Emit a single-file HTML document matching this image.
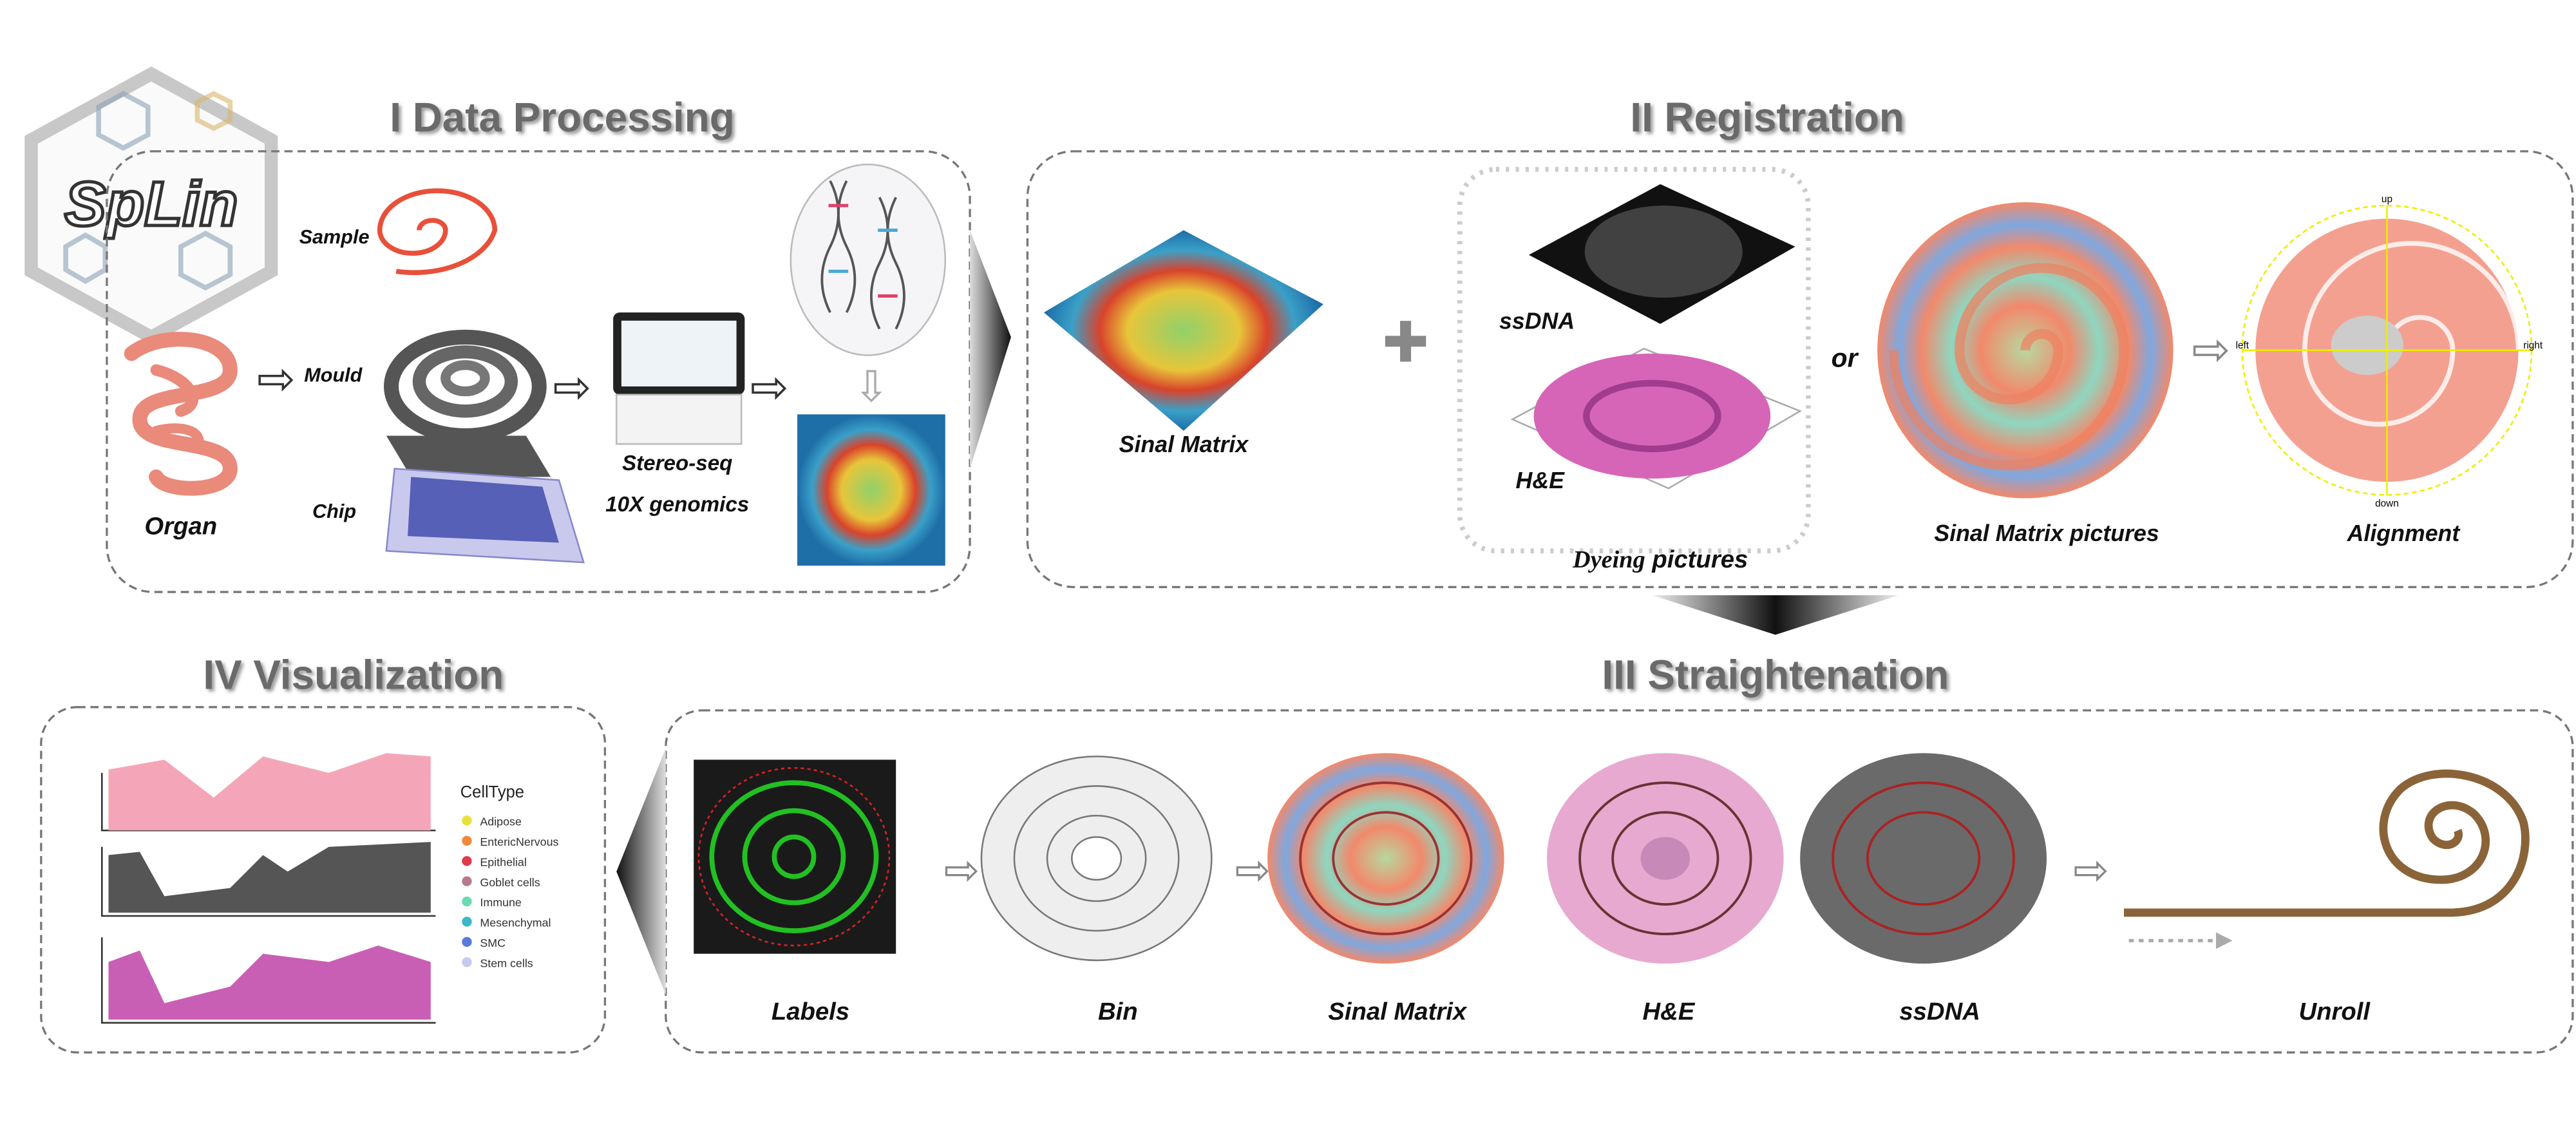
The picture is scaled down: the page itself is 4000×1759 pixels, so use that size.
<!DOCTYPE html>
<html><head><meta charset="utf-8">
<style>
html,body{margin:0;padding:0;background:#fff;}
svg{display:block;font-family:"Liberation Sans",Arial,sans-serif;}
.lbl{font-weight:bold;font-style:italic;fill:#111;}
.ttl{font-weight:bold;fill:#6a6a6a;font-size:25px;}
</style></head>
<body>
<svg id="fig" width="4000" height="1759" viewBox="0 0 1567 689" preserveAspectRatio="none" xmlns="http://www.w3.org/2000/svg">
<defs>
<linearGradient id="tri" x1="0" x2="1"><stop offset="0" stop-color="#ddd"/><stop offset="1" stop-color="#111"/></linearGradient>
<linearGradient id="triL" x1="1" x2="0"><stop offset="0" stop-color="#ddd"/><stop offset="1" stop-color="#111"/></linearGradient>
<linearGradient id="triD" x1="0" x2="1"><stop offset="0" stop-color="#eee"/><stop offset=".5" stop-color="#111"/><stop offset="1" stop-color="#eee"/></linearGradient>
<radialGradient id="heat"><stop offset="0" stop-color="#8fd16b"/><stop offset=".4" stop-color="#e8c53a"/><stop offset=".6" stop-color="#d9432b"/><stop offset=".8" stop-color="#3aa0c8"/><stop offset="1" stop-color="#1e6ea8"/></radialGradient>
<radialGradient id="spir"><stop offset="0" stop-color="#b7d8a0"/><stop offset=".3" stop-color="#f2896b"/><stop offset=".5" stop-color="#8fd6c0"/><stop offset=".7" stop-color="#f2896b"/><stop offset=".85" stop-color="#7fa8e0"/><stop offset="1" stop-color="#f2896b"/></radialGradient>
<filter id="sh"><feDropShadow dx="1.5" dy="1.5" stdDeviation="1" flood-color="#999"/></filter>
</defs>

<!-- Logo -->
<g>
<polygon points="92,45 165,85 165,165 92,205 19,165 19,85" fill="#fafafa" stroke="#c8c8c8" stroke-width="8"/>
<g fill="none" stroke="#8aa0b8" stroke-width="3" opacity=".6">
<polygon points="60,65 75,57 90,65 90,82 75,90 60,82"/><polygon points="110,150 125,142 140,150 140,167 125,175 110,167"/><polygon points="40,150 52,143 64,150 64,164 52,171 40,164"/><polygon points="120,62 130,57 140,62 140,73 130,78 120,73" stroke="#d9b56a"/></g>
<text x="92" y="137" text-anchor="middle" font-size="38" font-style="italic" font-weight="bold" fill="#fff" stroke="#333" stroke-width="2">SpLin</text>
</g>

<!-- Titles -->
<text class="ttl" filter="url(#sh)" x="342" y="80" text-anchor="middle">I Data Processing</text>
<text class="ttl" filter="url(#sh)" x="1075" y="80" text-anchor="middle">II Registration</text>
<text class="ttl" filter="url(#sh)" x="215" y="419" text-anchor="middle">IV Visualization</text>
<text class="ttl" filter="url(#sh)" x="1080" y="419" text-anchor="middle">III Straightenation</text>

<!-- Boxes -->
<rect x="65" y="92" width="525" height="268" rx="28" fill="none" stroke="#777" stroke-width="1.3" stroke-dasharray="5,3"/>
<rect x="625" y="92" width="940" height="265" rx="28" fill="none" stroke="#777" stroke-width="1.3" stroke-dasharray="5,3"/>
<rect x="25" y="430" width="343" height="210" rx="22" fill="none" stroke="#777" stroke-width="1.3" stroke-dasharray="5,3"/>
<rect x="405" y="432" width="1160" height="208" rx="22" fill="none" stroke="#777" stroke-width="1.3" stroke-dasharray="5,3"/>

<!-- Connector triangles -->
<polygon points="590,140 615,205 590,285" fill="url(#tri)"/>
<polygon points="1005,362 1155,362 1080,386" fill="url(#triD)"/>
<polygon points="405,455 375,530 405,605" fill="url(#triL)"/>

<!-- Panel I contents -->
<g fill="none" stroke="#e98a7a" stroke-width="9" stroke-linecap="round">
<path d="M80,215 C100,200 140,205 140,225 C140,245 85,235 85,255 C85,275 140,265 140,285 C140,300 100,300 95,290"/>
<path d="M95,225 C115,230 125,245 110,250" stroke-width="7"/>
<path d="M95,262 C110,258 125,262 120,272" stroke-width="6"/>
</g>
<text class="lbl" x="110" y="325" font-size="15" text-anchor="middle">Organ</text>
<path d="M255,140 a8,6 0 1,1 16,0 a20,14 0 1,1 -40,0 a35,24 0 1,1 70,0 a50,32 0 0,1 -60,25" fill="none" stroke="#e8503a" stroke-width="3"/>
<text class="lbl" x="182" y="148" font-size="12">Sample</text>
<text x="168" y="240" font-size="28" text-anchor="middle" fill="#333">⇨</text>
<g>
<polygon points="235,265 320,265 335,290 250,290" fill="#555"/>
<ellipse cx="283" cy="235" rx="45" ry="30" fill="none" stroke="#555" stroke-width="9"/>
<ellipse cx="283" cy="232" rx="28" ry="18" fill="none" stroke="#666" stroke-width="8"/>
<ellipse cx="283" cy="230" rx="12" ry="8" fill="none" stroke="#777" stroke-width="6"/>
</g>
<text class="lbl" x="185" y="232" font-size="12">Mould</text>
<polygon points="240,285 340,292 355,342 235,335" fill="#c9c9ee" stroke="#8888cc"/>
<polygon points="250,290 330,296 340,330 248,326" fill="#3a46a8" opacity=".8"/>
<text class="lbl" x="190" y="315" font-size="12">Chip</text>
<text x="348" y="245" font-size="28" text-anchor="middle" fill="#333">⇨</text>
<g>
<rect x="373" y="190" width="80" height="50" rx="4" fill="#222"/>
<rect x="378" y="195" width="70" height="40" fill="#eef3f8"/>
<rect x="375" y="240" width="76" height="30" fill="#f3f3f3" stroke="#bbb"/>
</g>
<text class="lbl" x="412" y="286" font-size="13" text-anchor="middle">Stereo-seq</text>
<text class="lbl" x="412" y="311" font-size="13" text-anchor="middle">10X genomics</text>
<text x="468" y="245" font-size="28" text-anchor="middle" fill="#333">⇨</text>
<ellipse cx="528" cy="158" rx="47" ry="58" fill="#f5f5f7" stroke="#bbb"/>
<g stroke="#555" stroke-width="1.5" fill="none">
<path d="M505,110 q10,20 0,40 q-10,20 0,40"/><path d="M515,110 q-10,20 0,40 q10,20 0,40"/>
<path d="M535,120 q10,20 0,40 q-10,20 0,40"/><path d="M545,120 q-10,20 0,40 q10,20 0,40"/>
</g>
<g stroke-width="2"><line x1="504" y1="125" x2="516" y2="125" stroke="#e0406a"/><line x1="504" y1="165" x2="516" y2="165" stroke="#4aa8d8"/><line x1="534" y1="140" x2="546" y2="140" stroke="#4aa8d8"/><line x1="534" y1="180" x2="546" y2="180" stroke="#e0406a"/></g>
<text x="530" y="244" font-size="26" text-anchor="middle" fill="#aaa">⇩</text>
<rect x="485" y="252" width="90" height="92" fill="url(#heat)"/>

<!-- Panel II contents -->
<polygon points="635,190 720,140 805,185 720,262" fill="url(#heat)"/>
<text class="lbl" x="720" y="275" font-size="14" text-anchor="middle">Sinal Matrix</text>
<text x="855" y="220" font-size="34" text-anchor="middle" fill="#888">✚</text>
<rect x="888" y="103" width="212" height="232" rx="22" fill="none" stroke="#ccc" stroke-width="3" stroke-dasharray="2,4"/>
<polygon points="930,155 1010,112 1092,150 1010,197" fill="#111"/>
<ellipse cx="1012" cy="153" rx="48" ry="28" fill="#555" opacity=".7"/>
<text class="lbl" x="912" y="200" font-size="14">ssDNA</text>
<polygon points="920,255 1000,212 1095,250 1015,297" fill="#fff" stroke="#aaa"/>
<ellipse cx="1005" cy="253" rx="72" ry="38" fill="#d665b8"/>
<ellipse cx="1005" cy="253" rx="40" ry="20" fill="none" stroke="#a03c8e" stroke-width="4"/>
<text class="lbl" x="922" y="297" font-size="14">H&amp;E</text>
<text x="1010" y="345" font-size="15" text-anchor="middle" font-weight="bold" font-style="italic" fill="#111"><tspan font-family="Liberation Serif,serif">Dyeing</tspan> pictures</text>
<text class="lbl" x="1122" y="223" font-size="16" text-anchor="middle" font-style="normal">or</text>
<ellipse cx="1232" cy="213" rx="90" ry="90" fill="url(#spir)"/>
<path d="M1232,213 a10,10 0 1,1 20,0 a30,30 0 1,1 -60,0 a50,50 0 1,1 100,0 a70,70 0 1,1 -140,0" fill="none" stroke="#f08060" stroke-width="6" opacity=".7"/>
<text class="lbl" x="1245" y="329" font-size="14" text-anchor="middle">Sinal Matrix pictures</text>
<text x="1345" y="222" font-size="28" text-anchor="middle" fill="#888">⇨</text>
<g>
<circle cx="1452" cy="213" r="88" fill="#fff" stroke="#ee0" stroke-dasharray="3,2"/>
<circle cx="1452" cy="213" r="80" fill="#f4a090"/>
<path d="M1452,213 a20,20 0 1,1 40,0 a45,45 0 1,1 -90,0 a65,65 0 1,1 130,0" fill="none" stroke="#fff" stroke-width="3" opacity=".8"/>
<ellipse cx="1440" cy="210" rx="22" ry="18" fill="#ccc"/>
<line x1="1364" y1="213" x2="1540" y2="213" stroke="#ee0"/><line x1="1452" y1="125" x2="1452" y2="301" stroke="#ee0"/>
<text x="1452" y="123" font-size="6" text-anchor="middle">up</text><text x="1452" y="308" font-size="6" text-anchor="middle">down</text>
<text x="1360" y="212" font-size="6">left</text><text x="1535" y="212" font-size="6">right</text>
</g>
<text class="lbl" x="1462" y="329" font-size="14" text-anchor="middle">Alignment</text>

<!-- Panel III contents -->
<rect x="422" y="462" width="123" height="118" fill="#1a1a1a"/>
<g fill="none" stroke="#22c022" stroke-width="3"><ellipse cx="483" cy="521" rx="50" ry="45"/><ellipse cx="483" cy="521" rx="30" ry="28"/><ellipse cx="483" cy="521" rx="12" ry="12"/></g>
<ellipse cx="483" cy="521" rx="58" ry="54" fill="none" stroke="#d22" stroke-dasharray="2,2"/>
<text class="lbl" x="493" y="620" font-size="15" text-anchor="middle">Labels</text>
<text x="585" y="538" font-size="26" text-anchor="middle" fill="#888">⇨</text>
<g fill="none" stroke="#777">
<ellipse cx="667" cy="522" rx="70" ry="62" fill="#eee"/><ellipse cx="667" cy="522" rx="50" ry="44"/><ellipse cx="667" cy="522" rx="30" ry="26"/><ellipse cx="667" cy="522" rx="15" ry="13" fill="#fff"/></g>
<text class="lbl" x="680" y="620" font-size="15" text-anchor="middle">Bin</text>
<text x="762" y="538" font-size="26" text-anchor="middle" fill="#888">⇨</text>
<g>
<ellipse cx="843" cy="522" rx="72" ry="64" fill="url(#spir)"/>
<g fill="none" stroke="#933" stroke-width="1.5"><ellipse cx="843" cy="522" rx="52" ry="46"/><ellipse cx="843" cy="522" rx="32" ry="28"/></g></g>
<text class="lbl" x="850" y="620" font-size="15" text-anchor="middle">Sinal Matrix</text>
<g>
<ellipse cx="1013" cy="522" rx="72" ry="64" fill="#e7a9cf"/>
<g fill="none" stroke="#633" stroke-width="1.5"><ellipse cx="1013" cy="522" rx="52" ry="46"/><ellipse cx="1013" cy="522" rx="32" ry="28"/></g>
<ellipse cx="1013" cy="522" rx="15" ry="13" fill="#c78ab8"/></g>
<text class="lbl" x="1015" y="620" font-size="15" text-anchor="middle">H&amp;E</text>
<g>
<ellipse cx="1170" cy="522" rx="75" ry="64" fill="#6a6a6a"/>
<g fill="none" stroke="#a22" stroke-width="1.5"><ellipse cx="1170" cy="522" rx="55" ry="46"/><ellipse cx="1170" cy="522" rx="34" ry="28"/></g></g>
<text class="lbl" x="1180" y="620" font-size="15" text-anchor="middle">ssDNA</text>
<text x="1272" y="538" font-size="26" text-anchor="middle" fill="#888">⇨</text>
<path d="M1292,555 L1490,555 C1530,555 1540,520 1535,500 C1525,470 1480,462 1460,480 C1440,500 1450,535 1485,535 C1510,535 1520,510 1505,495 C1490,482 1470,495 1480,510 C1488,518 1498,512 1495,505" fill="none" stroke="#8a6438" stroke-width="5"/>
<line x1="1295" y1="572" x2="1348" y2="572" stroke="#aaa" stroke-width="2" stroke-dasharray="3,3"/>
<polygon points="1348,567 1358,572 1348,577" fill="#aaa"/>
<text class="lbl" x="1420" y="620" font-size="15" text-anchor="middle">Unroll</text>

<!-- Panel IV contents -->
<g>
<path d="M62,470 L62,505 L265,505" fill="none" stroke="#333"/>
<path d="M66,468 L100,462 L130,485 L160,460 L200,470 L235,458 L262,460 L262,505 L66,505Z" fill="#f4a6b8"/>
<path d="M62,515 L62,557 L265,557" fill="none" stroke="#333"/>
<path d="M66,520 L85,518 L100,545 L140,540 L160,520 L175,530 L200,515 L262,512 L262,555 L66,555Z" fill="#555"/>
<path d="M62,570 L62,622 L265,622" fill="none" stroke="#333"/>
<path d="M66,585 L85,578 L100,610 L140,600 L160,580 L200,585 L230,575 L262,585 L262,620 L66,620Z" fill="#c95fb5"/>
</g>
<text x="280" y="485" font-size="10" fill="#222">CellType</text>
<g id="legend"></g>
</svg>
<script>
const cellTypes=["Adipose","EntericNervous","Epithelial","Goblet cells","Immune","Mesenchymal","SMC","Stem cells"];
const cellColors=["#e8e03a","#f08a3a","#e03a4a","#b87a8a","#6adcb0","#3ab8c8","#5a7ad8","#c8c8f0"];
const lg=document.getElementById('legend');
cellTypes.forEach((t,i)=>{
  const y=502+i*12.3;
  const c=document.createElementNS('http://www.w3.org/2000/svg','circle');
  c.setAttribute('cx',284);c.setAttribute('cy',y-3);c.setAttribute('r',3);c.setAttribute('fill',cellColors[i]);
  
  
  lg.appendChild(c);
  const tx=document.createElementNS('http://www.w3.org/2000/svg','text');
  tx.setAttribute('x',292);tx.setAttribute('y',y);tx.setAttribute('font-size','7');tx.setAttribute('fill','#333');
  tx.textContent=t;
  
  
  lg.appendChild(tx);
});
</script>
</body></html>
